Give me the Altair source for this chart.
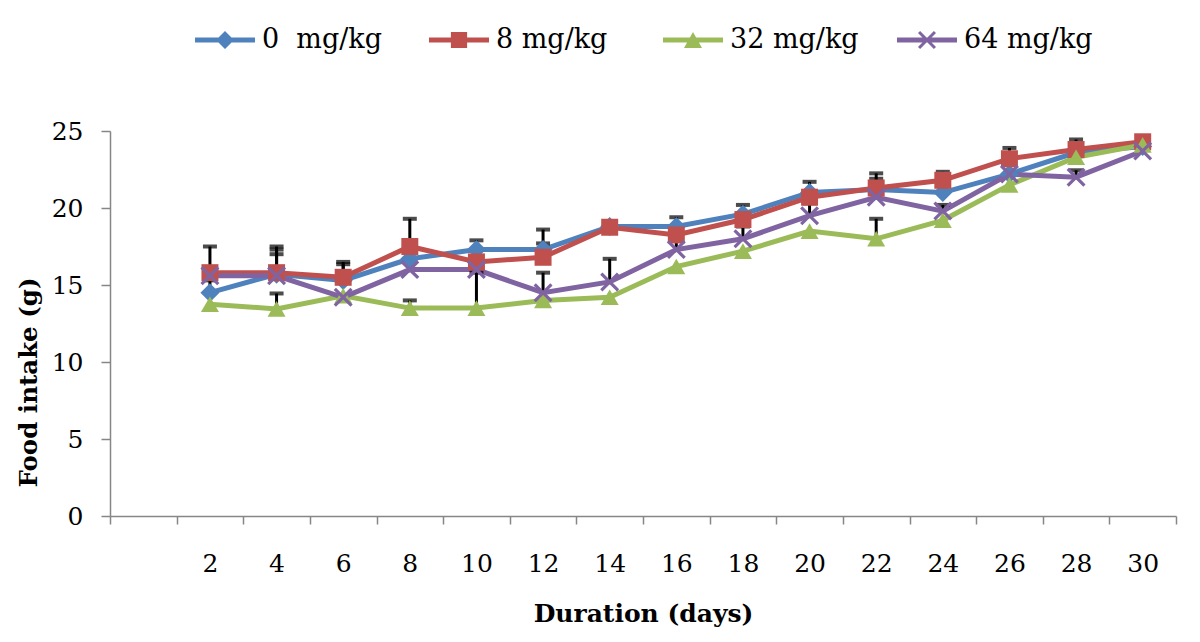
import altair as alt
import pandas as pd

days = [2, 4, 6, 8, 10, 12, 14, 16, 18, 20, 22, 24, 26, 28, 30]
series_names = ["0\u00a0 mg/kg", "8 mg/kg", "32 mg/kg", "64 mg/kg"]

intake_0 = [14.5, 15.7, 15.3, 16.7, 17.3, 17.3, 18.8, 18.8, 19.6, 21.0, 21.2, 21.0, 22.2, 23.6, 24.0]
intake_8 = [15.8, 15.8, 15.5, 17.5, 16.5, 16.8, 18.75, 18.25, 19.25, 20.7, 21.3, 21.8, 23.2, 23.8, 24.3]
intake_32 = [13.75, 13.45, 14.3, 13.5, 13.5, 14.0, 14.2, 16.2, 17.2, 18.5, 18.0, 19.2, 21.5, 23.3, 24.1]
intake_64 = [15.6, 15.6, 14.2, 16.0, 16.0, 14.5, 15.2, 17.3, 18.0, 19.5, 20.7, 19.8, 22.2, 22.0, 23.7]

err_0 = [0.8, 1.6, 1.05, 0, 0.6, 0.4, 0, 0.6, 0.6, 0.7, 0.7, 0, 0, 0, 0]
err_8 = [1.7, 1.7, 1.0, 1.8, 0, 1.8, 0.2, 0, 0, 0, 0.95, 0.55, 0.7, 0.65, 0]
err_32 = [0, 1.0, 0, 0.5, 2.3, 0, 0, 0, 0, 0, 1.3, 0, 0, 0, 0]
err_64 = [0, 1.4, 0, 0, 0, 1.3, 1.5, 0.6, 0.8, 0.8, 0, 0.4, 0, 0.45, 0]

colors = ["#4F81BD", "#C0504D", "#9BBB59", "#8064A2"]
x_ticks = list(range(-1, 32, 2))
y_ticks = [0, 5, 10, 15, 20, 25]

# marker paths for the chart points (unit box -1..1)
s = 0.24
x_path = (f"M{-1+s},-1 L0,{-s} L{1-s},-1 L1,{-1+s} L{s},0 L1,{1-s} L{1-s},1 "
          f"L0,{s} L{-1+s},1 L-1,{1-s} L{-s},0 L-1,{-1+s} Z")
marker_shapes = ["diamond", "square", "triangle-up", x_path]
marker_sizes = [361, 289, 324, 361]

# legend symbols: line stub + marker
band = "M-1,-0.083 L1,-0.083 L1,0.083 L-1,0.083 Z "
a, t = 0.3, 0.07
leg_x = (f"M{-a+t},{-a} L0,{-t} L{a-t},{-a} L{a},{-a+t} L{t},0 L{a},{a-t} L{a-t},{a} "
         f"L0,{t} L{-a+t},{a} L{-a},{a-t} L{-t},0 L{-a},{-a+t} Z")
legend_paths = [
    band + "M0,-0.3 L0.3,0 L0,0.3 L-0.3,0 Z",
    band + "M-0.27,-0.27 L0.27,-0.27 L0.27,0.27 L-0.27,0.27 Z",
    band + "M0,-0.27 L0.3,0.27 L-0.3,0.27 Z",
    band + leg_x,
]

rows = []
for name, vals, errs in zip(series_names, [intake_0, intake_8, intake_32, intake_64],
                            [err_0, err_8, err_32, err_64]):
    for d, v, e in zip(days, vals, errs):
        rows.append(dict(day=d, series=name, intake=v, err=e, top=round(v + e, 3)))
df = pd.DataFrame(rows)

FONT = "DejaVu Serif"
AX = "#868686"

x_enc = alt.X(
    "day:Q",
    scale=alt.Scale(domain=[-1, 31], nice=False, zero=False),
    axis=alt.Axis(
        values=x_ticks,
        labelExpr="datum.value >= 1 && datum.value <= 29 ? '' + (datum.value + 1) : ''",
        labelOffset=33.3, labelFlush=False, labelAlign="center", labelBaseline="middle",
        labelPadding=39, labelFont=FONT, labelFontSize=25, labelColor="black",
        tickSize=8, tickColor=AX, tickWidth=1.5, domainColor=AX, domainWidth=1.5,
        grid=False, labelOverlap=False,
        title="Duration (days)", titleFont=FONT, titleFontSize=25, titleFontWeight="bold",
        titleColor="black", titleBaseline="middle", titleY=97,
    ),
)
y_enc = alt.Y(
    "intake:Q",
    scale=alt.Scale(domain=[0, 25], nice=False),
    axis=alt.Axis(
        values=y_ticks, labelPadding=18, labelFont=FONT, labelFontSize=25, labelColor="black",
        tickSize=9, tickColor=AX, tickWidth=1.5, domainColor=AX, domainWidth=1.5, grid=False,
        title="Food intake (g)", titleFont=FONT, titleFontSize=24.5, titleFontWeight="bold",
        titleColor="black", titleBaseline="middle", titleAlign="center", titleX=-81, titleY=251,
    ),
)

base = alt.Chart(df)
layers = []
for name, c in zip(series_names, colors):
    layers.append(
        base.mark_line(color=c, strokeWidth=5).encode(x=x_enc, y=y_enc)
        .transform_filter(alt.datum.series == name)
    )

err_df = base.transform_filter("datum.err > 0")
layers.append(err_df.mark_rule(color="black", strokeWidth=3).encode(x=x_enc, y=y_enc, y2="top:Q"))
layers.append(err_df.mark_tick(color="black", orient="horizontal", size=14, thickness=4)
              .encode(x=x_enc, y=alt.Y("top:Q")))

for name, c, shp, sz in zip(series_names, colors, marker_shapes, marker_sizes):
    layers.append(
        base.mark_point(filled=True, shape=shp, size=sz, color=c, opacity=1)
        .encode(x=x_enc, y=y_enc)
        .transform_filter(alt.datum.series == name)
    )

legend = alt.Legend(
    orient="none", legendX=85, legendY=-121, direction="horizontal", title=None,
    symbolSize=3600, symbolStrokeWidth=0, labelFont=FONT, labelFontSize=27, labelColor="black",
    labelOffset=7, columnPadding=38, gridAlign="all", padding=0, offset=0,
)
layers.append(
    base.mark_point(filled=True, opacity=1)
    .encode(
        x=x_enc, y=y_enc,
        color=alt.Color("series:N", scale=alt.Scale(domain=series_names, range=colors), legend=legend),
        shape=alt.Shape("series:N", scale=alt.Scale(domain=series_names, range=legend_paths), legend=legend),
    )
    .transform_filter("datum.day < 0")
)

chart = alt.layer(*layers).properties(
    width=1066, height=385,
    autosize=alt.AutoSizeParams(type="none"),
    padding={"left": 102, "top": 123, "right": 10, "bottom": 116},
).configure_view(stroke=None)

chart.save("out.html", embed_options={"renderer": "svg", "actions": False})
